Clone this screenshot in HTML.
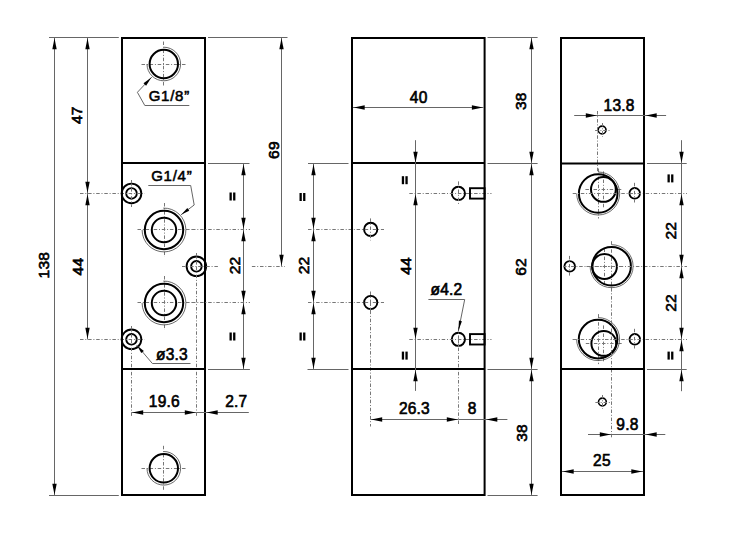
<!DOCTYPE html>
<html><head><meta charset="utf-8"><style>
html,body{margin:0;padding:0;background:#fff;}
svg{display:block;}
</style></head><body>
<svg width="755" height="534" viewBox="0 0 755 534">
<rect width="755" height="534" fill="#fff"/>
<line x1="141.5" y1="64.5" x2="186" y2="64.5" stroke="#777" stroke-width="1.0" stroke-dasharray="3.5 1.8 1 1.8" stroke-dashoffset="0"/>
<line x1="163.5" y1="41.5" x2="163.5" y2="86" stroke="#777" stroke-width="1.0" stroke-dasharray="3.5 1.8 1 1.8" stroke-dashoffset="0"/>
<circle cx="163.8" cy="64" r="14.2" fill="none" stroke="#000" stroke-width="2.0"/>
<path d="M163.8,47.2 A16.8,16.8 0 1 1 147,64" fill="none" stroke="#444" stroke-width="0.8"/>
<line x1="141.5" y1="468.5" x2="186" y2="468.5" stroke="#777" stroke-width="1.0" stroke-dasharray="3.5 1.8 1 1.8" stroke-dashoffset="0"/>
<line x1="163.5" y1="445.8" x2="163.5" y2="490.3" stroke="#777" stroke-width="1.0" stroke-dasharray="3.5 1.8 1 1.8" stroke-dashoffset="0"/>
<circle cx="163.8" cy="468.3" r="14.2" fill="none" stroke="#000" stroke-width="2.0"/>
<path d="M163.8,451.5 A16.8,16.8 0 1 1 147,468.3" fill="none" stroke="#444" stroke-width="0.8"/>
<line x1="137.5" y1="229.5" x2="192" y2="229.5" stroke="#777" stroke-width="1.0" stroke-dasharray="3.5 1.8 1 1.8" stroke-dashoffset="0"/>
<line x1="164.5" y1="203" x2="164.5" y2="257" stroke="#777" stroke-width="1.0" stroke-dasharray="3.5 1.8 1 1.8" stroke-dashoffset="0"/>
<circle cx="164" cy="230" r="19.2" fill="none" stroke="#000" stroke-width="2.0"/>
<circle cx="164" cy="230" r="12.2" fill="none" stroke="#000" stroke-width="2.0"/>
<path d="M163.24,208.11 A21.9,21.9 0 1 1 142.1,230" fill="none" stroke="#444" stroke-width="0.8"/>
<line x1="137.5" y1="302.5" x2="192" y2="302.5" stroke="#777" stroke-width="1.0" stroke-dasharray="3.5 1.8 1 1.8" stroke-dashoffset="0"/>
<line x1="164.5" y1="276" x2="164.5" y2="330" stroke="#777" stroke-width="1.0" stroke-dasharray="3.5 1.8 1 1.8" stroke-dashoffset="0"/>
<circle cx="164" cy="303" r="19.2" fill="none" stroke="#000" stroke-width="2.0"/>
<circle cx="164" cy="303" r="12.2" fill="none" stroke="#000" stroke-width="2.0"/>
<path d="M163.24,281.11 A21.9,21.9 0 1 1 142.1,303" fill="none" stroke="#444" stroke-width="0.8"/>
<circle cx="131.5" cy="193.4" r="9.8" fill="none" stroke="#000" stroke-width="1.9"/>
<circle cx="131.5" cy="193.4" r="5.3" fill="none" stroke="#000" stroke-width="1.9"/>
<circle cx="131.5" cy="339.3" r="9.8" fill="none" stroke="#000" stroke-width="1.9"/>
<circle cx="131.5" cy="339.3" r="5.3" fill="none" stroke="#000" stroke-width="1.9"/>
<circle cx="196.4" cy="266.3" r="9.8" fill="none" stroke="#000" stroke-width="1.9"/>
<circle cx="196.4" cy="266.3" r="5.3" fill="none" stroke="#000" stroke-width="1.9"/>
<line x1="80" y1="193.5" x2="145" y2="193.5" stroke="#777" stroke-width="1.0" stroke-dasharray="3.5 1.8 1 1.8" stroke-dashoffset="0"/>
<line x1="131.5" y1="180" x2="131.5" y2="207" stroke="#777" stroke-width="1.0" stroke-dasharray="3.5 1.8 1 1.8" stroke-dashoffset="0"/>
<line x1="80" y1="339.5" x2="145" y2="339.5" stroke="#777" stroke-width="1.0" stroke-dasharray="3.5 1.8 1 1.8" stroke-dashoffset="0"/>
<line x1="131.5" y1="326" x2="131.5" y2="339.5" stroke="#777" stroke-width="1.0" stroke-dasharray="3.5 1.8 1 1.8" stroke-dashoffset="0"/>
<line x1="182" y1="266.5" x2="219.3" y2="266.5" stroke="#777" stroke-width="1.0" stroke-dasharray="3.5 1.8 1 1.8" stroke-dashoffset="0"/>
<line x1="251.9" y1="266.5" x2="285" y2="266.5" stroke="#777" stroke-width="1.0" stroke-dasharray="3.5 1.8 1 1.8" stroke-dashoffset="0"/>
<line x1="196.5" y1="253" x2="196.5" y2="266.5" stroke="#777" stroke-width="1.0" stroke-dasharray="3.5 1.8 1 1.8" stroke-dashoffset="0"/>
<line x1="131.5" y1="339.5" x2="131.5" y2="417" stroke="#777" stroke-width="1.0" stroke-dasharray="3.5 1.8 1 1.8" stroke-dashoffset="0"/>
<line x1="196.5" y1="266.5" x2="196.5" y2="417" stroke="#777" stroke-width="1.0" stroke-dasharray="3.5 1.8 1 1.8" stroke-dashoffset="0"/>
<rect x="122" y="38" width="83" height="457" fill="none" stroke="#000" stroke-width="2.0"/>
<line x1="122" y1="163" x2="205" y2="163" stroke="#000" stroke-width="2.0" />
<line x1="122" y1="369" x2="205" y2="369" stroke="#000" stroke-width="2.0" />
<line x1="189.3" y1="105.5" x2="144.8" y2="105.5" stroke="#666" stroke-width="1.0" />
<line x1="144.8" y1="105.5" x2="137.4" y2="92.3" stroke="#666" stroke-width="1.0" />
<line x1="137.4" y1="92.3" x2="151.8" y2="77" stroke="#666" stroke-width="1.0" />
<polygon points="151.32,77.51 146.12,85.66 143.5,83.19" fill="#000"/>
<text transform="translate(169.28,101.3) scale(1.0,1)" text-anchor="middle" font-size="15" font-family="Liberation Sans, sans-serif" stroke="#000" stroke-width="0.55" letter-spacing="0.75">G1/8”</text>
<line x1="148.3" y1="185.5" x2="190.7" y2="185.5" stroke="#666" stroke-width="1.0" />
<line x1="190.7" y1="185.5" x2="194.2" y2="205" stroke="#666" stroke-width="1.0" />
<line x1="194.2" y1="205" x2="180.9" y2="214.9" stroke="#666" stroke-width="1.0" />
<polygon points="181.46,214.48 187.32,208.12 189.24,210.69" fill="#000"/>
<text transform="translate(171.78,180.8) scale(1.0,1)" text-anchor="middle" font-size="15" font-family="Liberation Sans, sans-serif" stroke="#000" stroke-width="0.55" letter-spacing="0.75">G1/4”</text>
<line x1="190.5" y1="363.5" x2="152.4" y2="363.5" stroke="#666" stroke-width="1.0" />
<line x1="152.4" y1="363.5" x2="136.6" y2="345" stroke="#666" stroke-width="1.0" />
<polygon points="137.05,345.53 143.87,350.89 141.28,353.1" fill="#000"/>
<text transform="translate(172,359.5) scale(0.97,1)" text-anchor="middle" font-size="16" font-family="Liberation Sans, sans-serif" stroke="#000" stroke-width="0.65" letter-spacing="0.2">ø3.3</text>
<line x1="49" y1="37.5" x2="118.8" y2="37.5" stroke="#666" stroke-width="1.0" />
<line x1="49" y1="495.5" x2="118.8" y2="495.5" stroke="#666" stroke-width="1.0" />
<line x1="54.5" y1="37.5" x2="54.5" y2="495.5" stroke="#666" stroke-width="1.0" />
<polygon points="54.5,38.2 56.7,49.2 52.3,49.2" fill="#000"/>
<polygon points="54.5,494.8 52.3,483.8 56.7,483.8" fill="#000"/>
<text transform="translate(49,265.3) rotate(-90)" x="0.1" text-anchor="middle" font-size="15.5" font-family="Liberation Sans, sans-serif" stroke="#000" stroke-width="0.65" letter-spacing="0.2">138</text>
<line x1="87.5" y1="37.5" x2="87.5" y2="339.5" stroke="#666" stroke-width="1.0" />
<polygon points="87.5,38.2 89.7,49.2 85.3,49.2" fill="#000"/>
<polygon points="87.5,192.8 85.3,181.8 89.7,181.8" fill="#000"/>
<polygon points="87.5,194.2 89.7,205.2 85.3,205.2" fill="#000"/>
<polygon points="87.5,338.8 85.3,327.8 89.7,327.8" fill="#000"/>
<text transform="translate(82.3,115.4) rotate(-90)" x="0.1" text-anchor="middle" font-size="15.5" font-family="Liberation Sans, sans-serif" stroke="#000" stroke-width="0.65" letter-spacing="0.2">47</text>
<text transform="translate(82.6,266.7) rotate(-90)" x="0.1" text-anchor="middle" font-size="15.5" font-family="Liberation Sans, sans-serif" stroke="#000" stroke-width="0.65" letter-spacing="0.2">44</text>
<line x1="131.5" y1="412.5" x2="196.5" y2="412.5" stroke="#666" stroke-width="1.0" />
<polygon points="132.2,412.5 143.2,410.3 143.2,414.7" fill="#000"/>
<polygon points="195.8,412.5 184.8,414.7 184.8,410.3" fill="#000"/>
<text transform="translate(164.3,407.2) scale(0.97,1)" text-anchor="middle" font-size="16" font-family="Liberation Sans, sans-serif" stroke="#000" stroke-width="0.65" letter-spacing="0.2">19.6</text>
<line x1="196.5" y1="412.5" x2="248.8" y2="412.5" stroke="#666" stroke-width="1.0" />
<polygon points="206.7,412.5 217.7,410.3 217.7,414.7" fill="#000"/>
<text transform="translate(236.3,407.3) scale(0.97,1)" text-anchor="middle" font-size="16" font-family="Liberation Sans, sans-serif" stroke="#000" stroke-width="0.65" letter-spacing="0.2">2.7</text>
<line x1="208" y1="37.5" x2="287.5" y2="37.5" stroke="#666" stroke-width="1.0" />
<line x1="281.5" y1="37.5" x2="281.5" y2="266.5" stroke="#666" stroke-width="1.0" />
<polygon points="281.5,38.2 283.7,49.2 279.3,49.2" fill="#000"/>
<polygon points="281.5,265.8 279.3,254.8 283.7,254.8" fill="#000"/>
<text transform="translate(278.9,150.2) rotate(-90)" x="0.1" text-anchor="middle" font-size="15.5" font-family="Liberation Sans, sans-serif" stroke="#000" stroke-width="0.65" letter-spacing="0.2">69</text>
<line x1="208" y1="163.5" x2="249.5" y2="163.5" stroke="#666" stroke-width="1.0" />
<line x1="208" y1="369.5" x2="249.9" y2="369.5" stroke="#666" stroke-width="1.0" />
<line x1="192" y1="229.5" x2="250" y2="229.5" stroke="#777" stroke-width="1.0" stroke-dasharray="3.5 1.8 1 1.8" stroke-dashoffset="0"/>
<line x1="192" y1="302.5" x2="250" y2="302.5" stroke="#777" stroke-width="1.0" stroke-dasharray="3.5 1.8 1 1.8" stroke-dashoffset="0"/>
<line x1="243.5" y1="163.5" x2="243.5" y2="369.5" stroke="#666" stroke-width="1.0" />
<polygon points="243.5,164.2 245.7,175.2 241.3,175.2" fill="#000"/>
<polygon points="243.5,228.8 241.3,217.8 245.7,217.8" fill="#000"/>
<polygon points="243.5,230.2 245.7,241.2 241.3,241.2" fill="#000"/>
<polygon points="243.5,301.8 241.3,290.8 245.7,290.8" fill="#000"/>
<polygon points="243.5,303.2 245.7,314.2 241.3,314.2" fill="#000"/>
<polygon points="243.5,368.8 241.3,357.8 245.7,357.8" fill="#000"/>
<rect x="229.5" y="192.5" width="2.3" height="8.0" fill="#000"/>
<rect x="233.1" y="192.5" width="2.3" height="8.0" fill="#000"/>
<text transform="translate(240,265.5) rotate(-90)" x="0.1" text-anchor="middle" font-size="15.5" font-family="Liberation Sans, sans-serif" stroke="#000" stroke-width="0.65" letter-spacing="0.2">22</text>
<rect x="229.5" y="332.5" width="2.3" height="8.0" fill="#000"/>
<rect x="233.1" y="332.5" width="2.3" height="8.0" fill="#000"/>
<circle cx="370.7" cy="229.4" r="6.6" fill="none" stroke="#000" stroke-width="1.9"/>
<line x1="370.5" y1="218.4" x2="370.5" y2="240.4" stroke="#777" stroke-width="1.0" stroke-dasharray="3.5 1.8 1 1.8" stroke-dashoffset="0"/>
<circle cx="370.7" cy="302.5" r="6.6" fill="none" stroke="#000" stroke-width="1.9"/>
<line x1="370.5" y1="291.5" x2="370.5" y2="313.5" stroke="#777" stroke-width="1.0" stroke-dasharray="3.5 1.8 1 1.8" stroke-dashoffset="0"/>
<line x1="308" y1="229.5" x2="384" y2="229.5" stroke="#777" stroke-width="1.0" stroke-dasharray="3.5 1.8 1 1.8" stroke-dashoffset="0"/>
<line x1="308" y1="302.5" x2="384" y2="302.5" stroke="#777" stroke-width="1.0" stroke-dasharray="3.5 1.8 1 1.8" stroke-dashoffset="0"/>
<circle cx="458.4" cy="193.4" r="6.6" fill="none" stroke="#000" stroke-width="1.9"/>
<line x1="409.3" y1="193.5" x2="491.5" y2="193.5" stroke="#777" stroke-width="1.0" stroke-dasharray="3.5 1.8 1 1.8" stroke-dashoffset="0"/>
<line x1="458.5" y1="181.4" x2="458.5" y2="205.4" stroke="#777" stroke-width="1.0" stroke-dasharray="3.5 1.8 1 1.8" stroke-dashoffset="0"/>
<rect x="470" y="188.2" width="14.6" height="10.4" fill="none" stroke="#000" stroke-width="1.9"/>
<circle cx="458.4" cy="339.3" r="6.6" fill="none" stroke="#000" stroke-width="1.9"/>
<line x1="409.3" y1="339.5" x2="491.5" y2="339.5" stroke="#777" stroke-width="1.0" stroke-dasharray="3.5 1.8 1 1.8" stroke-dashoffset="0"/>
<line x1="458.5" y1="327.3" x2="458.5" y2="351.3" stroke="#777" stroke-width="1.0" stroke-dasharray="3.5 1.8 1 1.8" stroke-dashoffset="0"/>
<rect x="470" y="334.1" width="14.6" height="10.4" fill="none" stroke="#000" stroke-width="1.9"/>
<line x1="370.5" y1="302.5" x2="370.5" y2="426.5" stroke="#777" stroke-width="1.0" stroke-dasharray="3.5 1.8 1 1.8" stroke-dashoffset="0"/>
<line x1="458.5" y1="339.5" x2="458.5" y2="425.5" stroke="#777" stroke-width="1.0" stroke-dasharray="3.5 1.8 1 1.8" stroke-dashoffset="0"/>
<rect x="352" y="38" width="132.6" height="457" fill="none" stroke="#000" stroke-width="2.0"/>
<line x1="352" y1="163" x2="484.6" y2="163" stroke="#000" stroke-width="2.0" />
<line x1="352" y1="369" x2="484.6" y2="369" stroke="#000" stroke-width="2.0" />
<line x1="353" y1="107.5" x2="483.6" y2="107.5" stroke="#666" stroke-width="1.0" />
<polygon points="353.7,107.5 364.7,105.3 364.7,109.7" fill="#000"/>
<polygon points="482.9,107.5 471.9,109.7 471.9,105.3" fill="#000"/>
<text transform="translate(418.65,102.6) scale(0.97,1)" text-anchor="middle" font-size="16" font-family="Liberation Sans, sans-serif" stroke="#000" stroke-width="0.65" letter-spacing="0.2">40</text>
<line x1="428.4" y1="299.5" x2="464.7" y2="299.5" stroke="#666" stroke-width="1.0" />
<line x1="464.7" y1="299.5" x2="458.3" y2="331.4" stroke="#666" stroke-width="1.0" />
<polygon points="458.44,330.71 458.93,320.61 461.88,321.2" fill="#000"/>
<text transform="translate(446.5,294.9) scale(0.97,1)" text-anchor="middle" font-size="16" font-family="Liberation Sans, sans-serif" stroke="#000" stroke-width="0.65" letter-spacing="0.2">ø4.2</text>
<line x1="415.5" y1="140.2" x2="415.5" y2="390.9" stroke="#666" stroke-width="1.0" />
<polygon points="415.5,162.8 413.3,151.8 417.7,151.8" fill="#000"/>
<polygon points="415.5,194.2 417.7,205.2 413.3,205.2" fill="#000"/>
<polygon points="415.5,338.8 413.3,327.8 417.7,327.8" fill="#000"/>
<polygon points="415.5,370.2 417.7,381.2 413.3,381.2" fill="#000"/>
<rect x="401.8" y="176.2" width="2.3" height="8.0" fill="#000"/>
<rect x="405.4" y="176.2" width="2.3" height="8.0" fill="#000"/>
<text transform="translate(411,266) rotate(-90)" x="0.1" text-anchor="middle" font-size="15.5" font-family="Liberation Sans, sans-serif" stroke="#000" stroke-width="0.65" letter-spacing="0.2">44</text>
<rect x="401.8" y="351.6" width="2.3" height="8.0" fill="#000"/>
<rect x="405.4" y="351.6" width="2.3" height="8.0" fill="#000"/>
<line x1="308" y1="163.5" x2="348.5" y2="163.5" stroke="#666" stroke-width="1.0" />
<line x1="307.5" y1="369.5" x2="348.5" y2="369.5" stroke="#666" stroke-width="1.0" />
<line x1="313.5" y1="163.5" x2="313.5" y2="369.5" stroke="#666" stroke-width="1.0" />
<polygon points="313.5,164.2 315.7,175.2 311.3,175.2" fill="#000"/>
<polygon points="313.5,228.8 311.3,217.8 315.7,217.8" fill="#000"/>
<polygon points="313.5,230.2 315.7,241.2 311.3,241.2" fill="#000"/>
<polygon points="313.5,301.8 311.3,290.8 315.7,290.8" fill="#000"/>
<polygon points="313.5,303.2 315.7,314.2 311.3,314.2" fill="#000"/>
<polygon points="313.5,368.8 311.3,357.8 315.7,357.8" fill="#000"/>
<rect x="299.5" y="193" width="2.3" height="8.0" fill="#000"/>
<rect x="303.1" y="193" width="2.3" height="8.0" fill="#000"/>
<text transform="translate(308.8,265.5) rotate(-90)" x="0.1" text-anchor="middle" font-size="15.5" font-family="Liberation Sans, sans-serif" stroke="#000" stroke-width="0.65" letter-spacing="0.2">22</text>
<rect x="299.5" y="332.5" width="2.3" height="8.0" fill="#000"/>
<rect x="303.1" y="332.5" width="2.3" height="8.0" fill="#000"/>
<line x1="370.5" y1="419.5" x2="458.5" y2="419.5" stroke="#666" stroke-width="1.0" />
<polygon points="371.2,419.5 382.2,417.3 382.2,421.7" fill="#000"/>
<polygon points="457.8,419.5 446.8,421.7 446.8,417.3" fill="#000"/>
<text transform="translate(414.45,414.1) scale(0.97,1)" text-anchor="middle" font-size="16" font-family="Liberation Sans, sans-serif" stroke="#000" stroke-width="0.65" letter-spacing="0.2">26.3</text>
<line x1="458.5" y1="419.5" x2="507.4" y2="419.5" stroke="#666" stroke-width="1.0" />
<polygon points="486.3,419.5 497.3,417.3 497.3,421.7" fill="#000"/>
<text transform="translate(472.05,413.9) scale(0.97,1)" text-anchor="middle" font-size="16" font-family="Liberation Sans, sans-serif" stroke="#000" stroke-width="0.65" letter-spacing="0.2">8</text>
<line x1="487.5" y1="37.5" x2="537.6" y2="37.5" stroke="#666" stroke-width="1.0" />
<line x1="487.5" y1="163.5" x2="537.6" y2="163.5" stroke="#666" stroke-width="1.0" />
<line x1="487.5" y1="369.5" x2="537.6" y2="369.5" stroke="#666" stroke-width="1.0" />
<line x1="487.5" y1="495.5" x2="537.6" y2="495.5" stroke="#666" stroke-width="1.0" />
<line x1="531.5" y1="37.5" x2="531.5" y2="495.5" stroke="#666" stroke-width="1.0" />
<polygon points="531.5,38.2 533.7,49.2 529.3,49.2" fill="#000"/>
<polygon points="531.5,162.8 529.3,151.8 533.7,151.8" fill="#000"/>
<polygon points="531.5,164.2 533.7,175.2 529.3,175.2" fill="#000"/>
<polygon points="531.5,368.8 529.3,357.8 533.7,357.8" fill="#000"/>
<polygon points="531.5,370.2 533.7,381.2 529.3,381.2" fill="#000"/>
<polygon points="531.5,494.8 529.3,483.8 533.7,483.8" fill="#000"/>
<text transform="translate(526.3,101.4) rotate(-90)" x="0.1" text-anchor="middle" font-size="15.5" font-family="Liberation Sans, sans-serif" stroke="#000" stroke-width="0.65" letter-spacing="0.2">38</text>
<text transform="translate(526.2,267) rotate(-90)" x="0.1" text-anchor="middle" font-size="15.5" font-family="Liberation Sans, sans-serif" stroke="#000" stroke-width="0.65" letter-spacing="0.2">62</text>
<text transform="translate(526.6,433) rotate(-90)" x="0.1" text-anchor="middle" font-size="15.5" font-family="Liberation Sans, sans-serif" stroke="#000" stroke-width="0.65" letter-spacing="0.2">38</text>
<line x1="598.5" y1="168.5" x2="598.5" y2="218.5" stroke="#777" stroke-width="1.0" stroke-dasharray="3.5 1.8 1 1.8" stroke-dashoffset="0"/>
<line x1="585.4" y1="189.5" x2="621.4" y2="189.5" stroke="#777" stroke-width="1.0" stroke-dasharray="3.5 1.8 1 1.8" stroke-dashoffset="0"/>
<line x1="603.5" y1="171.4" x2="603.5" y2="207.4" stroke="#777" stroke-width="1.0" stroke-dasharray="3.5 1.8 1 1.8" stroke-dashoffset="0"/>
<circle cx="598.2" cy="193.5" r="19.3" fill="none" stroke="#000" stroke-width="2.0"/>
<circle cx="603.4" cy="189.4" r="12.4" fill="none" stroke="#000" stroke-width="2.0"/>
<path d="M598.2,172 A21.5,21.5 0 1 1 576.7,193.5" fill="none" stroke="#444" stroke-width="0.8"/>
<line x1="611.5" y1="241.2" x2="611.5" y2="291.2" stroke="#777" stroke-width="1.0" stroke-dasharray="3.5 1.8 1 1.8" stroke-dashoffset="0"/>
<line x1="586.5" y1="266.5" x2="622.5" y2="266.5" stroke="#777" stroke-width="1.0" stroke-dasharray="3.5 1.8 1 1.8" stroke-dashoffset="0"/>
<line x1="604.5" y1="248.5" x2="604.5" y2="284.5" stroke="#777" stroke-width="1.0" stroke-dasharray="3.5 1.8 1 1.8" stroke-dashoffset="0"/>
<circle cx="611.6" cy="266.2" r="19.3" fill="none" stroke="#000" stroke-width="2.0"/>
<circle cx="604.5" cy="266.5" r="12.4" fill="none" stroke="#000" stroke-width="2.0"/>
<path d="M611.6,244.7 A21.5,21.5 0 1 1 590.1,266.2" fill="none" stroke="#444" stroke-width="0.8"/>
<line x1="598.5" y1="314.1" x2="598.5" y2="364.1" stroke="#777" stroke-width="1.0" stroke-dasharray="3.5 1.8 1 1.8" stroke-dashoffset="0"/>
<line x1="585.8" y1="343.5" x2="621.8" y2="343.5" stroke="#777" stroke-width="1.0" stroke-dasharray="3.5 1.8 1 1.8" stroke-dashoffset="0"/>
<line x1="603.5" y1="325.4" x2="603.5" y2="361.4" stroke="#777" stroke-width="1.0" stroke-dasharray="3.5 1.8 1 1.8" stroke-dashoffset="0"/>
<circle cx="598.1" cy="339.1" r="19.3" fill="none" stroke="#000" stroke-width="2.0"/>
<circle cx="603.8" cy="343.4" r="12.4" fill="none" stroke="#000" stroke-width="2.0"/>
<path d="M598.1,317.6 A21.5,21.5 0 1 1 576.6,339.1" fill="none" stroke="#444" stroke-width="0.8"/>
<circle cx="634.7" cy="193.3" r="5.3" fill="none" stroke="#000" stroke-width="1.8"/>
<line x1="634.5" y1="182.8" x2="634.5" y2="204.3" stroke="#777" stroke-width="1.0" stroke-dasharray="3.5 1.8 1 1.8" stroke-dashoffset="0"/>
<circle cx="569.7" cy="266.4" r="5.3" fill="none" stroke="#000" stroke-width="1.8"/>
<line x1="569.5" y1="255.9" x2="569.5" y2="277.4" stroke="#777" stroke-width="1.0" stroke-dasharray="3.5 1.8 1 1.8" stroke-dashoffset="0"/>
<circle cx="634.8" cy="339.3" r="5.3" fill="none" stroke="#000" stroke-width="1.8"/>
<line x1="634.5" y1="328.8" x2="634.5" y2="350.3" stroke="#777" stroke-width="1.0" stroke-dasharray="3.5 1.8 1 1.8" stroke-dashoffset="0"/>
<circle cx="602.1" cy="130" r="3.9" fill="none" stroke="#000" stroke-width="1.6"/>
<line x1="595.1" y1="130.5" x2="610.1" y2="130.5" stroke="#777" stroke-width="1.0" stroke-dasharray="3.5 1.8 1 1.8" stroke-dashoffset="0"/>
<line x1="602.5" y1="123" x2="602.5" y2="137" stroke="#777" stroke-width="1.0" stroke-dasharray="3.5 1.8 1 1.8" stroke-dashoffset="0"/>
<circle cx="602.4" cy="402" r="3.9" fill="none" stroke="#000" stroke-width="1.6"/>
<line x1="595.4" y1="402.5" x2="610.4" y2="402.5" stroke="#777" stroke-width="1.0" stroke-dasharray="3.5 1.8 1 1.8" stroke-dashoffset="0"/>
<line x1="602.5" y1="395" x2="602.5" y2="409" stroke="#777" stroke-width="1.0" stroke-dasharray="3.5 1.8 1 1.8" stroke-dashoffset="0"/>
<line x1="572.7" y1="193.5" x2="687" y2="193.5" stroke="#777" stroke-width="1.0" stroke-dasharray="3.5 1.8 1 1.8" stroke-dashoffset="0"/>
<line x1="563" y1="266.5" x2="687" y2="266.5" stroke="#777" stroke-width="1.0" stroke-dasharray="3.5 1.8 1 1.8" stroke-dashoffset="0"/>
<line x1="572.6" y1="339.5" x2="687" y2="339.5" stroke="#777" stroke-width="1.0" stroke-dasharray="3.5 1.8 1 1.8" stroke-dashoffset="0"/>
<line x1="597.5" y1="111" x2="597.5" y2="172" stroke="#777" stroke-width="1.0" stroke-dasharray="3.5 1.8 1 1.8" stroke-dashoffset="0"/>
<line x1="611.5" y1="288" x2="611.5" y2="438.6" stroke="#777" stroke-width="1.0" stroke-dasharray="3.5 1.8 1 1.8" stroke-dashoffset="0"/>
<rect x="561" y="38" width="83" height="457" fill="none" stroke="#000" stroke-width="2.0"/>
<line x1="561" y1="163.4" x2="644" y2="163.4" stroke="#000" stroke-width="2.0" />
<line x1="561" y1="369" x2="644" y2="369" stroke="#000" stroke-width="2.0" />
<line x1="574.2" y1="115.5" x2="666.1" y2="115.5" stroke="#666" stroke-width="1.0" />
<polygon points="596.8,115.5 585.8,117.7 585.8,113.3" fill="#000"/>
<polygon points="645.7,115.5 656.7,113.3 656.7,117.7" fill="#000"/>
<text transform="translate(619.05,110.5) scale(0.97,1)" text-anchor="middle" font-size="16" font-family="Liberation Sans, sans-serif" stroke="#000" stroke-width="0.65" letter-spacing="0.2">13.8</text>
<line x1="588" y1="434.5" x2="665.3" y2="434.5" stroke="#666" stroke-width="1.0" />
<polygon points="610.8,434.5 599.8,436.7 599.8,432.3" fill="#000"/>
<polygon points="645.7,434.5 656.7,432.3 656.7,436.7" fill="#000"/>
<text transform="translate(627.4,429.7) scale(0.97,1)" text-anchor="middle" font-size="16" font-family="Liberation Sans, sans-serif" stroke="#000" stroke-width="0.65" letter-spacing="0.2">9.8</text>
<line x1="562" y1="471.5" x2="643" y2="471.5" stroke="#666" stroke-width="1.0" />
<polygon points="562.7,471.5 573.7,469.3 573.7,473.7" fill="#000"/>
<polygon points="642.3,471.5 631.3,473.7 631.3,469.3" fill="#000"/>
<text transform="translate(601.9,466.4) scale(0.97,1)" text-anchor="middle" font-size="16" font-family="Liberation Sans, sans-serif" stroke="#000" stroke-width="0.65" letter-spacing="0.2">25</text>
<line x1="647" y1="163.5" x2="686.7" y2="163.5" stroke="#666" stroke-width="1.0" />
<line x1="647" y1="369.5" x2="686.7" y2="369.5" stroke="#666" stroke-width="1.0" />
<line x1="681.5" y1="140.2" x2="681.5" y2="391.2" stroke="#666" stroke-width="1.0" />
<polygon points="681.5,162.8 679.3,151.8 683.7,151.8" fill="#000"/>
<polygon points="681.5,194.2 683.7,205.2 679.3,205.2" fill="#000"/>
<polygon points="681.5,265.8 679.3,254.8 683.7,254.8" fill="#000"/>
<polygon points="681.5,267.2 683.7,278.2 679.3,278.2" fill="#000"/>
<polygon points="681.5,338.8 679.3,327.8 683.7,327.8" fill="#000"/>
<polygon points="681.5,340.2 683.7,351.2 679.3,351.2" fill="#000"/>
<polygon points="681.5,370.2 683.7,381.2 679.3,381.2" fill="#000"/>
<rect x="667.5" y="174.4" width="2.3" height="8.0" fill="#000"/>
<rect x="671.1" y="174.4" width="2.3" height="8.0" fill="#000"/>
<text transform="translate(675.6,230.9) rotate(-90)" x="0.1" text-anchor="middle" font-size="15.5" font-family="Liberation Sans, sans-serif" stroke="#000" stroke-width="0.65" letter-spacing="0.2">22</text>
<text transform="translate(675.5,303) rotate(-90)" x="0.1" text-anchor="middle" font-size="15.5" font-family="Liberation Sans, sans-serif" stroke="#000" stroke-width="0.65" letter-spacing="0.2">22</text>
<rect x="667.5" y="351.6" width="2.3" height="8.0" fill="#000"/>
<rect x="671.1" y="351.6" width="2.3" height="8.0" fill="#000"/>
</svg>
</body></html>
